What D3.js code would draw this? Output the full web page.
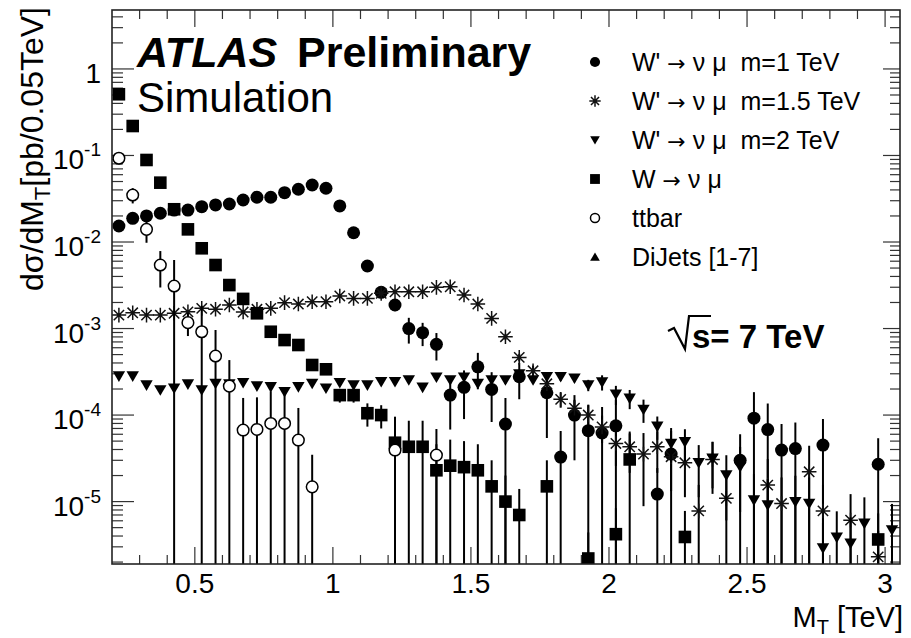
<!DOCTYPE html>
<html>
<head>
<meta charset="utf-8">
<script src="https://cdn.jsdelivr.net/npm/d3@7"></script>
<style>
  body { margin: 0; background: #fff; }
  svg { display: block; }
  text { font-family: "Liberation Sans", Arial, Helvetica, sans-serif; fill: #000; }
</style>
</head>
<body>
<svg id="chart" width="911" height="638"></svg>
<script>
// Transverse mass bin centres, 0.05 TeV wide bins
const mtBins = [0.225,0.275,0.325,0.375,0.425,0.475,0.525,0.575,0.625,0.675,
  0.725,0.775,0.825,0.875,0.925,0.975,1.025,1.075,1.125,1.175,
  1.225,1.275,1.325,1.375,1.425,1.475,1.525,1.575,1.625,1.675,
  1.725,1.775,1.825,1.875,1.925,1.975,2.025,2.075,2.125,2.175,
  2.225,2.275,2.325,2.375,2.425,2.475,2.525,2.575,2.625,2.675,
  2.725,2.775,2.825,2.875,2.925,2.975,3.025];

// dsigma/dMT [pb / 0.05 TeV] per bin (null = empty bin), with relative stat. uncertainty
const wp1000 = [0.0153,0.0188,0.0200,0.0215,0.0234,0.0234,0.0256,0.0268,0.0275,0.0306,
  0.0329,0.0329,0.0372,0.0407,0.0456,0.0418,0.0261,0.0128,0.00528,0.00262,
  0.00187,0.00100,0.000895,0.000657,0.000170,0.000209,0.000361,0.000198,0.0000787,0.000277,
  null,0.000181,0.0000327,0.000100,0.000066,0.000062,0.000075,null,null,0.0000122,
  0.0000354,null,null,null,null,0.0000300,0.000092,0.000068,0.0000394,0.000041,
  null,0.000045,null,null,null,0.000027,null];
const wp1000Err = [0.03,0.03,0.03,0.03,0.03,0.03,0.03,0.03,0.03,0.03,
  0.03,0.03,0.03,0.03,0.03,0.03,0.05,0.06,0.08,0.1,
  0.15,0.33,0.3,0.35,0.6,0.57,0.45,0.58,1.0,0.45,
  0,0.7,1.0,0.7,1.0,1.0,1.0,0,0,1.0,
  1.0,0,0,0,0,1.0,1.0,1.0,1.0,1.0,
  0,1.0,0,0,0,1.0,0];

const wp1500 = [1.43e-3,1.52e-3,1.43e-3,1.43e-3,1.50e-3,1.56e-3,1.71e-3,1.67e-3,1.87e-3,1.55e-3,
  1.67e-3,1.71e-3,1.99e-3,1.92e-3,2.04e-3,2.04e-3,2.38e-3,2.23e-3,2.23e-3,2.55e-3,
  2.66e-3,2.66e-3,2.66e-3,2.99e-3,3.04e-3,2.44e-3,1.92e-3,1.31e-3,8.04e-4,4.64e-4,
  3.25e-4,2.3e-4,1.52e-4,1.2e-4,1.0e-4,7.3e-5,4.7e-5,4.3e-5,3.54e-5,4.3e-5,
  3.3e-5,2.81e-5,7.8e-6,3.07e-5,1.09e-5,null,null,1.55e-5,9.5e-6,null,
  2.21e-5,7.8e-6,null,6.1e-6,null,2.3e-6,null];
const wp1500Err = [0.04,0.04,0.04,0.04,0.04,0.04,0.04,0.04,0.04,0.04,
  0.04,0.04,0.04,0.04,0.04,0.04,0.04,0.04,0.04,0.04,
  0.04,0.04,0.04,0.04,0.04,0.05,0.05,0.07,0.08,0.1,
  0.15,0.15,0.2,0.25,0.3,0.35,0.45,0.5,0.75,0.5,
  0.6,0.6,1.0,0.6,1.0,0,0,1.0,1.0,0,
  1.0,1.0,0,1.0,0,1.0,0];

const wp2000 = [2.82e-4,2.82e-4,2.22e-4,1.95e-4,2.04e-4,2.28e-4,1.95e-4,2.32e-4,2.28e-4,2.36e-4,
  2.16e-4,2.12e-4,1.86e-4,2.12e-4,2.32e-4,2.04e-4,2.36e-4,2.22e-4,2.22e-4,2.43e-4,
  2.43e-4,2.54e-4,2.09e-4,2.73e-4,2.54e-4,2.73e-4,2.32e-4,2.54e-4,2.54e-4,2.98e-4,
  2.54e-4,2.77e-4,2.77e-4,2.66e-4,2.22e-4,2.4e-4,1.74e-4,1.56e-4,1.16e-4,7.4e-5,
  4.7e-5,4.9e-5,2.81e-5,3.16e-5,2.02e-5,2.53e-5,1.04e-5,9.1e-6,null,9.95e-6,
  9.5e-6,2.9e-6,3.86e-6,3.29e-6,5.6e-6,null,4.7e-6];
const wp2000Err = [0.06,0.06,0.06,0.06,0.06,0.06,0.06,0.06,0.06,0.06,
  0.06,0.06,0.06,0.06,0.06,0.06,0.06,0.06,0.06,0.06,
  0.07,0.07,0.07,0.07,0.08,0.08,0.08,0.08,0.09,0.09,
  0.1,0.1,0.1,0.1,0.15,0.2,0.25,0.25,0.3,0.3,
  0.4,0.4,0.6,0.55,0.7,0.7,1.0,1.0,0,1.0,
  1.0,1.0,1.0,1.0,1.0,0,1.0];

const wmunu = [0.51,0.219,0.0887,0.0485,0.0239,0.014,8.46e-3,5.42e-3,3.18e-3,2.2e-3,
  1.50e-3,9.18e-4,7.36e-4,6.45e-4,3.79e-4,3.38e-4,1.70e-4,1.70e-4,1.05e-4,1.0e-4,
  4.79e-5,4.3e-5,4.3e-5,2.3e-5,2.6e-5,2.5e-5,2.3e-5,1.5e-5,1.0e-5,7e-6,
  null,1.5e-5,null,null,2.2e-6,null,4.2e-6,3.07e-5,null,null,
  null,3.9e-6,null,null,null,null,null,null,null,null,
  null,null,null,null,null,3.65e-6,null];
const wmunuErr = [0.02,0.02,0.02,0.02,0.02,0.02,0.02,0.02,0.02,0.02,
  0.02,0.02,0.02,0.05,0.1,0.1,0.18,0.18,0.3,0.3,
  1.0,1.0,1.0,1.0,1.0,1.0,1.0,1.0,1.0,1.0,
  0,1.0,0,0,1.0,0,1.0,1.0,0,0,
  0,1.0,0,0,0,0,0,0,0,0,
  0,0,0,0,0,1.0,0];

const ttbar = [0.0929,0.0349,0.014,5.42e-3,3.10e-3,1.17e-3,9.18e-4,4.81e-4,2.16e-4,6.71e-5,
  6.82e-5,8.0e-5,8.0e-5,5.14e-5,1.48e-5,null,null,null,null,null,
  3.94e-5,null,null,3.45e-5,null,null,null,null,null,null,
  null,null,null,null,null,null,null,null,null,null,
  null,null,null,null,null,null,null,null,null,null,
  null,null,null,null,null,null,null];
const ttbarErr = [0.15,0.2,0.3,0.45,1.0,0.3,1.0,1.0,1.0,1.35,
  1.35,1.35,1.35,1.35,1.35,0,0,0,0,0,
  1.0,0,0,1.0,0,0,0,0,0,0,
  0,0,0,0,0,0,0,0,0,0,
  0,0,0,0,0,0,0,0,0,0,
  0,0,0,0,0,0,0];

const dijets = [];      // no entries in this mass range
const dijetsErr = [];

const xTickLabels = ["0.5", "1", "1.5", "2", "2.5", "3"];
const yDecades = [-5, -4, -3, -2, -1, 0];

// legend entries: [process, decay, mass point]
const series = [
  { proc: "W'", tail: "  m=1 TeV",   marker: "circle",  values: wp1000, rel: wp1000Err },
  { proc: "W'", tail: "  m=1.5 TeV", marker: "star",    values: wp1500, rel: wp1500Err },
  { proc: "W'", tail: "  m=2 TeV",   marker: "triDown", values: wp2000, rel: wp2000Err },
  { proc: "W",  tail: "",            marker: "square",  values: wmunu,  rel: wmunuErr },
  { plain: "ttbar",                  marker: "open",    values: ttbar,  rel: ttbarErr },
  { plain: "DiJets [1-7]",           marker: "triUp",   values: dijets, rel: dijetsErr }
];

const svg = d3.select("#chart");
const P = { left: 112, top: 10, right: 900, bottom: 564 };

const x = d3.scaleLinear().domain([0.2, 3.054]).range([P.left, P.right]);
const y = d3.scaleLog().domain([1.9e-6, 4.8]).range([P.bottom, P.top]);

svg.append("rect").attr("width", 911).attr("height", 638).attr("fill", "#fff");

svg.append("clipPath").attr("id", "plotClip")
  .append("rect").attr("x", P.left).attr("y", P.top)
  .attr("width", P.right - P.left).attr("height", P.bottom - P.top);

// ---- axis ticks (ticks on all four sides, pointing inward)
const ticks = svg.append("g").attr("stroke", "#333").attr("stroke-width", 1.2);
const xMajor = xTickLabels.map(Number);
const xMinor = d3.range(3, 31).map(d => d / 10).filter(v => !xMajor.some(m => Math.abs(m - v) < 1e-9));
function vTick(v, len) {
  const px = x(v);
  ticks.append("line").attr("x1", px).attr("x2", px).attr("y1", P.bottom).attr("y2", P.bottom - len);
  ticks.append("line").attr("x1", px).attr("x2", px).attr("y1", P.top).attr("y2", P.top + len);
}
xMajor.forEach(v => vTick(v, 17));
xMinor.forEach(v => vTick(v, 9));

const [yLo, yHi] = y.domain();
for (let d = -6; d <= 0; d++) {
  for (let m = 1; m <= 9; m++) {
    const v = m * Math.pow(10, d);
    if (v < yLo || v > yHi) continue;
    const py = y(v);
    const major = m === 1;
    ticks.append("line").attr("x1", P.left).attr("x2", P.left + (major ? 22 : 11)).attr("y1", py).attr("y2", py);
    ticks.append("line").attr("x1", P.right).attr("x2", P.right - (major ? 17 : 10)).attr("y1", py).attr("y2", py);
  }
}

// ---- tick labels
svg.append("g").selectAll("text").data(xTickLabels).join("text")
  .attr("x", d => x(+d)).attr("y", 593)
  .attr("text-anchor", "middle").attr("font-size", 28).text(d => d);

const yl = svg.append("g").selectAll("text").data(yDecades).join("text")
  .attr("x", 101).attr("y", d => y(Math.pow(10, d)) + 14)
  .attr("text-anchor", "end").attr("font-size", 28);
yl.each(function (d) {
  const t = d3.select(this);
  if (d === 0) { t.text("1"); return; }
  t.append("tspan").text("10");
  t.append("tspan").attr("font-size", 19).attr("dy", -13).text(String(d));
});

// ---- axis titles
const xt = svg.append("text").attr("x", 903).attr("y", 627).attr("text-anchor", "end").attr("font-size", 29);
xt.append("tspan").text("M");
xt.append("tspan").attr("font-size", 20).attr("dy", 7).text("T");
xt.append("tspan").attr("dy", -7).text(" [TeV]");

const yt = svg.append("text").attr("transform", "translate(43,7) rotate(-90)")
  .attr("text-anchor", "end").attr("font-size", 32);
yt.append("tspan").text("d\u03c3/dM");
yt.append("tspan").attr("font-size", 22).attr("dy", 7).text("T");
yt.append("tspan").attr("dy", -7).text("[pb/0.05TeV]");

// ---- marker shapes
function drawMarker(g, kind, cx, cy, s) {
  switch (kind) {
    case "circle":
      g.append("circle").attr("cx", cx).attr("cy", cy).attr("r", 6.5 * s).attr("fill", "#000");
      break;
    case "open":
      g.append("circle").attr("cx", cx).attr("cy", cy).attr("r", 5.8 * s)
        .attr("fill", "#fff").attr("stroke", "#000").attr("stroke-width", 1.5);
      break;
    case "square":
      g.append("rect").attr("x", cx - 6.3 * s).attr("y", cy - 6.3 * s)
        .attr("width", 12.6 * s).attr("height", 12.6 * s).attr("fill", "#000");
      break;
    case "triDown":
      g.append("path").attr("d", `M${cx - 6.2 * s},${cy - 4.8 * s}L${cx + 6.2 * s},${cy - 4.8 * s}L${cx},${cy + 5.8 * s}Z`).attr("fill", "#000");
      break;
    case "triUp":
      g.append("path").attr("d", `M${cx - 6.2 * s},${cy + 4.8 * s}L${cx + 6.2 * s},${cy + 4.8 * s}L${cx},${cy - 5.8 * s}Z`).attr("fill", "#000");
      break;
    case "star": {
      const r = 7.3 * s, q = r * 0.7071;
      g.append("path")
        .attr("d", `M${cx - r},${cy}L${cx + r},${cy}M${cx},${cy - r}L${cx},${cy + r}` +
                   `M${cx - q},${cy - q}L${cx + q},${cy + q}M${cx - q},${cy + q}L${cx + q},${cy - q}`)
        .attr("stroke", "#111").attr("stroke-width", 1.5).attr("fill", "none");
      break;
    }
  }
}

// ---- data points with vertical stat. error bars
const dataG = svg.append("g").attr("clip-path", "url(#plotClip)");
series.forEach(s => {
  const g = dataG.append("g");
  s.values.forEach((v, i) => {
    if (v == null) return;
    const mt = mtBins[i];
    const e = v * (s.rel[i] || 0);
    const px = x(mt), py = y(v);
    if (e > 0) {
      const hi = y(v + e);
      const lo = (v - e) > yLo ? y(v - e) : P.bottom + 2;
      g.append("line").attr("x1", px).attr("x2", px).attr("y1", hi).attr("y2", lo)
        .attr("stroke", "#000").attr("stroke-width", 2);
    }
    drawMarker(g, s.marker, px, py, 1);
  });
});

// ---- frame
svg.append("rect").attr("x", P.left).attr("y", P.top)
  .attr("width", P.right - P.left).attr("height", P.bottom - P.top)
  .attr("fill", "none").attr("stroke", "#222").attr("stroke-width", 1.6);

// ---- experiment labels
const atlas = svg.append("text").attr("x", 137).attr("y", 67).attr("font-size", 43).attr("font-weight", "bold");
atlas.append("tspan").attr("font-style", "italic").text("ATLAS");
atlas.append("tspan").attr("x", 297).text("Preliminary");
svg.append("text").attr("x", 137).attr("y", 112).attr("font-size", 42).text("Simulation");

// centre-of-mass energy
svg.append("path").attr("d", "M668,331L674,328L685,349L689,316L711,316")
  .attr("fill", "none").attr("stroke", "#000").attr("stroke-width", 2.2);
svg.append("text").attr("x", 692).attr("y", 348).attr("font-size", 33).attr("font-weight", "bold").text("s= 7 TeV");

// ---- legend
const leg = svg.append("g");
series.forEach((s, i) => {
  const cy = 62 + 39 * i;
  drawMarker(leg, s.marker, 595, cy, 0.78);
  const t = leg.append("text").attr("x", 632).attr("y", cy + 8.5).attr("font-size", 25)
    .style("white-space", "pre");
  if (s.plain) { t.text(s.plain); return; }
  t.append("tspan").text(s.proc + " ");
  t.append("tspan").attr("font-family", "DejaVu Sans").attr("font-size", 22).text("\u2192");
  t.append("tspan").text(" \u03bd \u03bc" + s.tail);
});
</script>
</body>
</html>
